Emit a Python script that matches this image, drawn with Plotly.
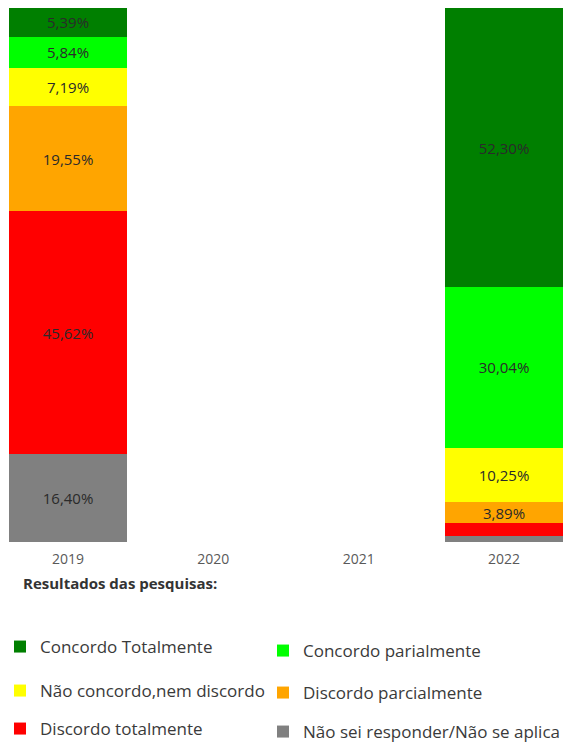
import plotly.graph_objects as go

years = ["2019", "2020", "2021", "2022"]
series_names = [
    "Não sei responder/Não se aplica",
    "Discordo totalmente",
    "Discordo parcialmente",
    "Não concordo,nem discordo",
    "Concordo parialmente",
    "Concordo Totalmente",
]
nao_sei = [16.40, None, None, 1.18]
discordo_tot = [45.62, None, None, 2.34]
discordo_parc = [19.55, None, None, 3.89]
neutro = [7.19, None, None, 10.25]
concordo_parc = [5.84, None, None, 30.04]
concordo_tot = [5.39, None, None, 52.30]

values = [nao_sei, discordo_tot, discordo_parc, neutro, concordo_parc, concordo_tot]
colors = ["#808080", "#ff0000", "#ffa500", "#ffff00", "#00ff00", "#007f00"]

W, H = 577, 743

# one legend per entry: (legend id, x px, y px of entry centre)
legend_slots = [
    ("legend6", 263, 732),
    ("legend5", 0, 729),
    ("legend4", 263, 693),
    ("legend3", 0, 691),
    ("legend2", 263, 651),
    ("legend", 0, 647),
]

def label(v):
    if v is None or v < 3:
        return ""
    return f"{v:.2f}".replace(".", ",") + "%"

fig = go.Figure()
for name, vals, col, slot in zip(series_names, values, colors, legend_slots):
    fig.add_trace(go.Bar(
        x=years, y=vals, name=name, marker=dict(color=col, line=dict(width=0)),
        text=[label(v) for v in vals], textposition="inside",
        insidetextanchor="middle", textangle=0,
        textfont=dict(family="Open Sans", size=15, color="#2a2a2a"),
        legend=slot[0], showlegend=True,
    ))

legends = {}
for lid, lx, ly in legend_slots:
    legends[lid] = dict(
        orientation="h", xref="container", yref="container", visible=True,
        x=lx / W, y=1 - ly / H, xanchor="left", yanchor="middle",
        font=dict(family="Open Sans", size=17, color="#3a3a3a"),
        bgcolor="rgba(0,0,0,0)",
    )

fig.update_layout(
    width=W, height=H,
    margin=dict(l=0, r=0, t=8, b=201),
    showlegend=True,
    barmode="stack", bargap=0.19,
    plot_bgcolor="white", paper_bgcolor="white",
    font=dict(family="Open Sans", size=14, color="#595959"),
    uniformtext=dict(minsize=15, mode="show"),
    xaxis=dict(type="category", range=[-0.468, 3.502], showgrid=False, showline=False,
               ticks="", ticklabelstandoff=7, tickfont=dict(size=14, color="#595959")),
    yaxis=dict(range=[0, 100], visible=False),
    annotations=[dict(text="<b>Resultados das pesquisas:</b>", x=21 / W, y=-0.0768,
                      xref="paper", yref="paper", xanchor="left", yanchor="middle",
                      showarrow=False, font=dict(family="Open Sans", size=15, color="#333333"))],
    **legends,
)

fig.write_html("out.html", config={"displayModeBar": False},
               post_script="document.body.style.margin='0';")
